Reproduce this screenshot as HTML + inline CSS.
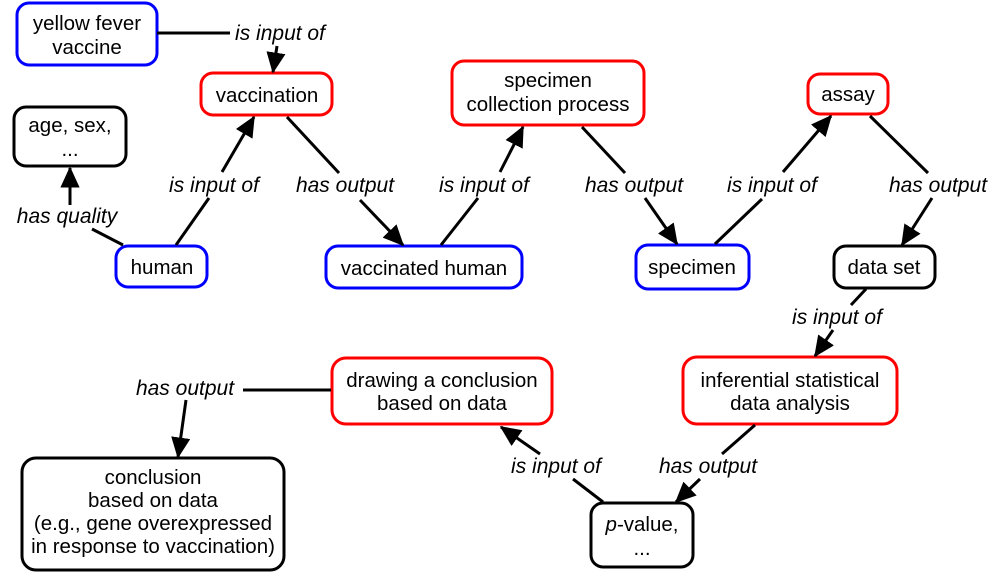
<!DOCTYPE html>
<html><head><meta charset="utf-8"><style>
html,body{margin:0;padding:0;background:#fff;}
svg{display:block;}
text{font-family:"Liberation Sans",Arial,sans-serif;font-size:20.5px;fill:#000;}
.l{font-style:italic;font-size:21px;}
</style></head><body>
<svg width="1000" height="575" viewBox="0 0 1000 575" xmlns="http://www.w3.org/2000/svg">
<defs>
<marker id="a" markerWidth="7" markerHeight="6.4" refX="6.5" refY="3.2" orient="auto" markerUnits="strokeWidth">
<path d="M0,0 L7,3.2 L0,6.4 z" fill="#000"/>
</marker>
</defs>
<g fill="#fff" stroke-width="3">
<rect x="17" y="3" width="140" height="62" rx="12" stroke="#00f"/>
<rect x="201" y="73" width="131" height="42" rx="12" stroke="#f00"/>
<rect x="14" y="107" width="112" height="59" rx="12" stroke="#000"/>
<rect x="116" y="246" width="91" height="41" rx="12" stroke="#00f"/>
<rect x="326" y="246" width="196" height="42" rx="12" stroke="#00f"/>
<rect x="452" y="61" width="192" height="64" rx="12" stroke="#f00"/>
<rect x="636" y="245" width="113" height="44" rx="12" stroke="#00f"/>
<rect x="808" y="74" width="80" height="40" rx="12" stroke="#f00"/>
<rect x="834" y="246" width="101" height="42" rx="12" stroke="#000"/>
<rect x="683" y="357" width="214" height="67" rx="14" stroke="#f00"/>
<rect x="332" y="358" width="220" height="66" rx="14" stroke="#f00"/>
<rect x="591" y="503" width="102" height="64" rx="12" stroke="#000"/>
<rect x="22" y="458" width="262" height="112" rx="14" stroke="#000"/>
</g>
<g stroke="#000" stroke-width="3" fill="none">
<line x1="157" y1="33" x2="230" y2="33"/>
<line x1="277" y1="46" x2="273" y2="72" marker-end="url(#a)"/>
<line x1="176" y1="245" x2="209" y2="198"/>
<line x1="222" y1="172" x2="254" y2="117" marker-end="url(#a)"/>
<line x1="287" y1="117" x2="339" y2="173"/>
<line x1="360" y1="200" x2="403" y2="245" marker-end="url(#a)"/>
<line x1="123" y1="245" x2="92" y2="229"/>
<line x1="70" y1="205" x2="70" y2="168" marker-end="url(#a)"/>
<line x1="441" y1="245" x2="478" y2="198"/>
<line x1="500" y1="172" x2="523" y2="127" marker-end="url(#a)"/>
<line x1="582" y1="127" x2="625" y2="173"/>
<line x1="645" y1="198" x2="677" y2="244" marker-end="url(#a)"/>
<line x1="715" y1="244" x2="762" y2="199"/>
<line x1="783" y1="172" x2="831" y2="116" marker-end="url(#a)"/>
<line x1="870" y1="116" x2="928" y2="173"/>
<line x1="932" y1="198" x2="902" y2="245" marker-end="url(#a)"/>
<line x1="866" y1="289" x2="851" y2="305"/>
<line x1="833" y1="330" x2="815" y2="356" marker-end="url(#a)"/>
<line x1="755" y1="425" x2="722" y2="454"/>
<line x1="700" y1="479" x2="676" y2="502" marker-end="url(#a)"/>
<line x1="603" y1="502" x2="573" y2="479"/>
<line x1="540" y1="454" x2="501" y2="427" marker-end="url(#a)"/>
<line x1="331" y1="390" x2="243" y2="390"/>
<line x1="186" y1="400" x2="178" y2="457" marker-end="url(#a)"/>
</g>
<g text-anchor="middle">
<text x="87" y="30">yellow fever</text><text x="87" y="54">vaccine</text>
<text x="267" y="102">vaccination</text>
<text x="70" y="132">age, sex,</text><text x="70" y="156">...</text>
<text x="162" y="274">human</text>
<text x="424" y="275">vaccinated human</text>
<text x="548" y="87">specimen</text><text x="548" y="111">collection process</text>
<text x="692" y="274">specimen</text>
<text x="848" y="101">assay</text>
<text x="884" y="274">data set</text>
<text x="790" y="387">inferential statistical</text><text x="790" y="410">data analysis</text>
<text x="442" y="387">drawing a conclusion</text><text x="442" y="410">based on data</text>
<text x="642" y="531"><tspan font-style="italic">p</tspan>-value,</text><text x="642" y="555">...</text>
<text x="153" y="484">conclusion</text><text x="153" y="507">based on data</text><text x="153" y="530">(e.g., gene overexpressed</text><text x="153" y="553">in response to vaccination)</text>
</g>
<g text-anchor="middle">
<text class="l" x="280" y="40">is input of</text>
<text class="l" x="214" y="192">is input of</text>
<text class="l" x="345" y="192">has output</text>
<text class="l" x="67" y="223">has quality</text>
<text class="l" x="484" y="192">is input of</text>
<text class="l" x="634" y="192">has output</text>
<text class="l" x="772" y="192">is input of</text>
<text class="l" x="938" y="192">has output</text>
<text class="l" x="837" y="324">is input of</text>
<text class="l" x="708" y="473">has output</text>
<text class="l" x="556" y="473">is input of</text>
<text class="l" x="185" y="395">has output</text>
</g>
</svg>
</body></html>
